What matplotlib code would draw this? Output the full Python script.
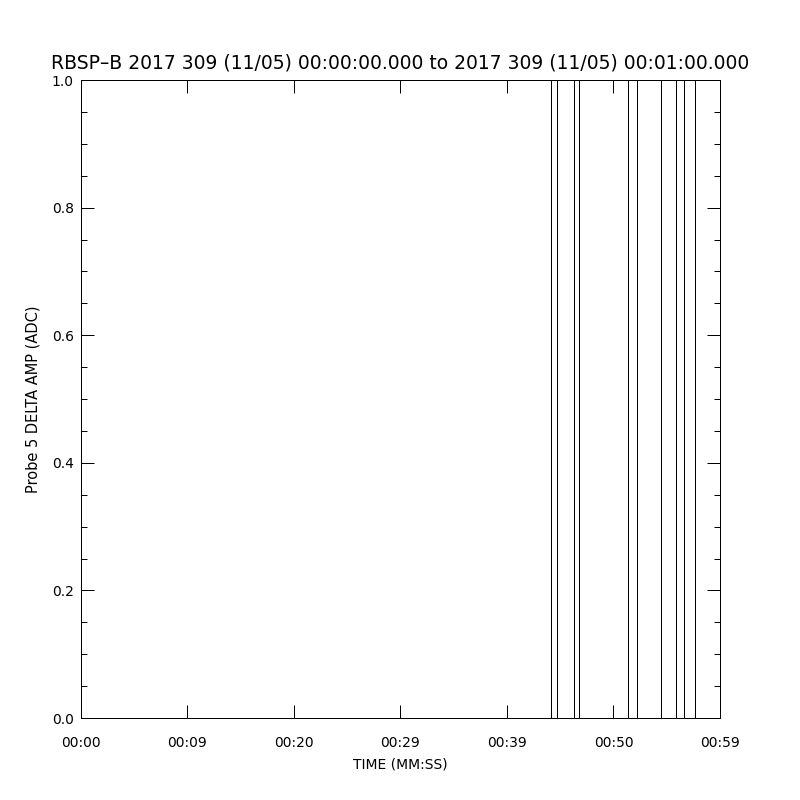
import matplotlib
matplotlib.use("Agg")
import matplotlib.pyplot as plt
import numpy as np

# Data: signal mostly 0 with off-scale spikes (seconds since 00:00:00)
times = [0.0, 44.13, 44.69, 46.28, 46.81, 51.40, 52.25, 54.50, 55.85, 56.63, 57.68, 60.0]
values = [0.0, 5.0, 0.0, 5.0, 0.0, 5.0, 0.0, 5.0, 0.0, 5.0, 0.0, 0.0]

xtick_pos = [0, 10, 20, 30, 40, 50, 60]
xtick_labels = ["00:00", "00:09", "00:20", "00:29", "00:39", "00:50", "00:59"]
ytick_pos = [0.0, 0.2, 0.4, 0.6, 0.8, 1.0]
ytick_labels = ["0.0", "0.2", "0.4", "0.6", "0.8", "1.0"]

title = "RBSP\u2013B 2017 309 (11/05) 00:00:00.000 to 2017 309 (11/05) 00:01:00.000"
xlabel = "TIME (MM:SS)"
ylabel = "Probe 5 DELTA AMP (ADC)"

plt.rcParams['font.family'] = ['DejaVu Sans']

fig = plt.figure(figsize=(8, 8), dpi=100)
ax = fig.add_axes([0.101, 0.1025, 0.799, 0.7975])

ax.plot(times, values, drawstyle='steps-post', color='black', lw=0.72,
        antialiased=False, clip_on=True)

ax.set_xlim(0, 60)
ax.set_ylim(0, 1)

ax.set_xticks(xtick_pos)
ax.set_xticklabels(xtick_labels, fontsize=10)
ax.set_yticks(ytick_pos)
ax.set_yticklabels(ytick_labels, fontsize=10)
ax.set_yticks(np.arange(0, 1.0001, 0.05), minor=True)

ax.tick_params(axis='both', which='major', direction='in', length=9.5, width=0.72,
               top=True, right=True, color='black')
ax.tick_params(axis='y', which='minor', direction='in', length=4.5, width=0.72,
               left=True, right=True)
ax.tick_params(axis='x', which='major', pad=13)
ax.tick_params(axis='y', which='major', pad=5)

for s in ax.spines.values():
    s.set_linewidth(0.72)

ax.set_title(title, fontsize=13.5, pad=8)
ax.set_xlabel(xlabel, fontsize=10, labelpad=5)
ax.set_ylabel(ylabel, fontsize=10.5, labelpad=8)

fig.savefig("out.png", dpi=100)
